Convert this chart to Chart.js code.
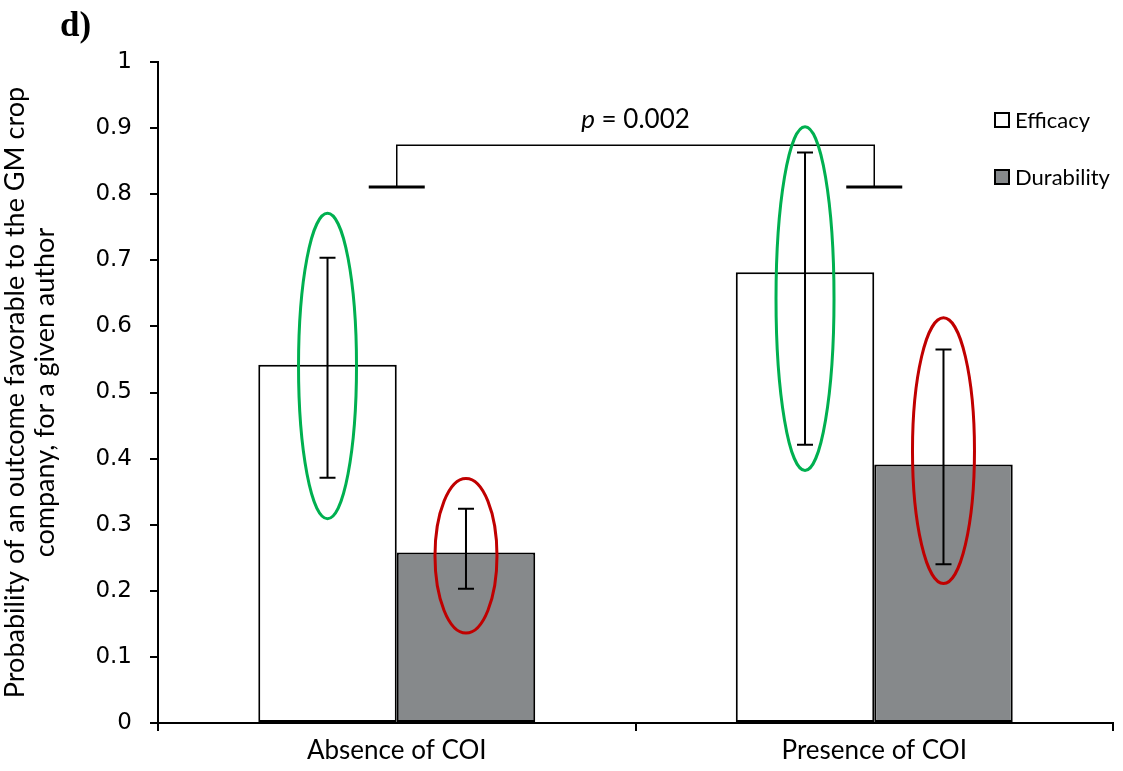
<!DOCTYPE html>
<html>
<head>
<meta charset="utf-8">
<script src="https://cdn.jsdelivr.net/npm/chart.js@4.4.1/dist/chart.umd.min.js"></script>
<style>
  body { margin: 0; background: #fff; }
  canvas { display: block; }
</style>
</head>
<body>
<canvas id="chart" width="1123" height="771"></canvas>
<script>
// data
const categories = ["Absence of COI", "Presence of COI"];
const seriesNames = ["Efficacy", "Durability"];
const efficacy = [0.542, 0.682];
const durability = [0.258, 0.391];
const efficacyLow = [0.371, 0.421];
const efficacyHigh = [0.704, 0.863];
const durabilityLow = [0.203, 0.240];
const durabilityHigh = [0.324, 0.565];
// highlighted ranges (ellipses), low / high
const efficacyRingLow = [0.309, 0.382];
const efficacyRingHigh = [0.771, 0.902];
const durabilityRingLow = [0.136, 0.211];
const durabilityRingHigh = [0.370, 0.613];
// significance bracket
const bracketTop = 0.874;
const bracketFoot = 0.811;
const pText = "0.002";
const yTicks = [0, 0.1, 0.2, 0.3, 0.4, 0.5, 0.6, 0.7, 0.8, 0.9, 1];

const labelFont = "Lato";

const extras = {
  id: "extras",
  afterDatasetsDraw(chart) {
    const ctx = chart.ctx;
    const y = chart.scales.y;
    const x = chart.scales.x;
    const lows = [efficacyLow, durabilityLow];
    const highs = [efficacyHigh, durabilityHigh];
    const ringLows = [efficacyRingLow, durabilityRingLow];
    const ringHighs = [efficacyRingHigh, durabilityRingHigh];
    const ringColors = ["#00b050", "#c00000"];
    const ringHalfW = [29, 31];

    ctx.save();
    // error bars
    ctx.strokeStyle = "#000";
    ctx.lineWidth = 2;
    for (let d = 0; d < 2; d++) {
      const meta = chart.getDatasetMeta(d);
      meta.data.forEach((bar, i) => {
        const yl = y.getPixelForValue(lows[d][i]);
        const yh = y.getPixelForValue(highs[d][i]);
        ctx.beginPath();
        ctx.moveTo(bar.x, yl);
        ctx.lineTo(bar.x, yh);
        ctx.moveTo(bar.x - 8, yl);
        ctx.lineTo(bar.x + 8, yl);
        ctx.moveTo(bar.x - 8, yh);
        ctx.lineTo(bar.x + 8, yh);
        ctx.stroke();
      });
    }

    // bracket
    const x0 = x.getPixelForValue(0);
    const x1 = x.getPixelForValue(1);
    const yt = y.getPixelForValue(bracketTop);
    const yf = y.getPixelForValue(bracketFoot);
    ctx.lineWidth = 1.5;
    ctx.beginPath();
    ctx.moveTo(x0, yf);
    ctx.lineTo(x0, yt);
    ctx.lineTo(x1, yt);
    ctx.lineTo(x1, yf);
    ctx.stroke();
    ctx.lineWidth = 3;
    ctx.beginPath();
    ctx.moveTo(x0 - 28, yf);
    ctx.lineTo(x0 + 28, yf);
    ctx.moveTo(x1 - 28, yf);
    ctx.lineTo(x1 + 28, yf);
    ctx.stroke();

    // p value
    ctx.fillStyle = "#000";
    ctx.textBaseline = "alphabetic";
    ctx.textAlign = "left";
    const partP = "p";
    const partRest = " = " + pText;
    ctx.font = "italic 26px " + labelFont;
    const wP = ctx.measureText(partP).width;
    ctx.font = "26px " + labelFont;
    const wR = ctx.measureText(partRest).width;
    const tx = (x0 + x1) / 2 - (wP + wR) / 2;
    const ty = yt - 17;
    ctx.font = "italic 26px " + labelFont;
    ctx.fillText(partP, tx, ty);
    ctx.font = "26px " + labelFont;
    ctx.fillText(partRest, tx + wP, ty);

    // ellipses
    ctx.lineWidth = 3;
    for (let d = 0; d < 2; d++) {
      const meta = chart.getDatasetMeta(d);
      meta.data.forEach((bar, i) => {
        const yl = y.getPixelForValue(ringLows[d][i]);
        const yh = y.getPixelForValue(ringHighs[d][i]);
        ctx.strokeStyle = ringColors[d];
        ctx.beginPath();
        ctx.ellipse(bar.x, (yl + yh) / 2, ringHalfW[d], (yl - yh) / 2, 0, 0, Math.PI * 2);
        ctx.stroke();
      });
    }

    // legend
    const lx = chart.chartArea.right - 118;
    const fills = ["#ffffff", "#86898b"];
    ctx.font = "22px " + labelFont;
    ctx.textBaseline = "middle";
    seriesNames.forEach((name, i) => {
      const ly = 120 + i * 57;
      ctx.fillStyle = fills[i];
      ctx.fillRect(lx, ly - 7, 14, 14);
      ctx.strokeStyle = "#000";
      ctx.lineWidth = 2;
      ctx.strokeRect(lx, ly - 7, 14, 14);
      ctx.fillStyle = "#000";
      ctx.fillText(name, lx + 20, ly + 1);
    });

    // panel letter
    ctx.font = "bold 35px 'Liberation Serif'";
    ctx.textBaseline = "alphabetic";
    ctx.fillText("d)", 60, 36);
    ctx.restore();
  }
};

new Chart(document.getElementById("chart"), {
  type: "bar",
  data: {
    labels: categories,
    datasets: [
      {
        label: seriesNames[0],
        data: efficacy,
        backgroundColor: "#ffffff",
        borderColor: "#000",
        borderWidth: 2,
        borderSkipped: false
      },
      {
        label: seriesNames[1],
        data: durability,
        backgroundColor: "#86898b",
        borderColor: "#000",
        borderWidth: 2,
        borderSkipped: false
      }
    ]
  },
  options: {
    responsive: false,
    animation: false,
    events: [],
    categoryPercentage: 0.58,
    barPercentage: 1,
    layout: { padding: { top: 62, right: 10, left: 0, bottom: 0 } },
    plugins: {
      legend: { display: false },
      tooltip: { enabled: false }
    },
    scales: {
      x: {
        afterFit: (s) => { s.height = 48; },
        grid: {
          display: true,
          drawOnChartArea: false,
          drawTicks: true,
          tickLength: 8,
          color: "#000",
          lineWidth: 2
        },
        border: { display: true, color: "#000", width: 2 },
        ticks: {
          color: "#000",
          font: { family: labelFont, size: 26 },
          padding: 4
        }
      },
      y: {
        min: 0,
        max: 1,
        afterFit: (s) => { s.width = 158; },
        afterBuildTicks: (s) => { s.ticks = yTicks.map((v) => ({ value: v })); },
        grid: {
          display: true,
          drawOnChartArea: false,
          drawTicks: true,
          tickLength: 8,
          color: "#000",
          lineWidth: 2
        },
        border: { display: true, color: "#000", width: 2 },
        ticks: {
          color: "#000",
          font: { family: "DejaVu Sans", size: 23 },
          padding: 18,
          callback: (v) => String(Math.round(v * 10) / 10)
        },
        title: {
          display: true,
          text: ["Probability of an outcome favorable to the GM crop", "company, for a given author"],
          color: "#000",
          font: { family: labelFont, size: 27, lineHeight: 1.12 },
          padding: { top: 0, bottom: 0 }
        }
      }
    }
  },
  plugins: [extras]
});
</script>
</body>
</html>
